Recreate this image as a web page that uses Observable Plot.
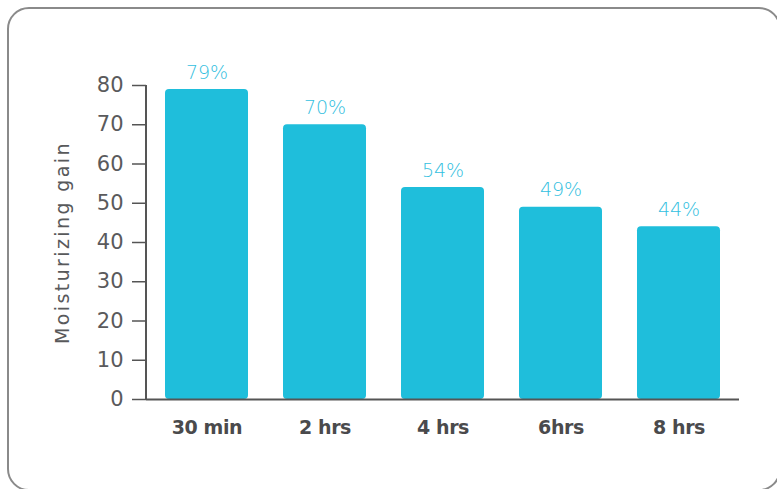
<!DOCTYPE html>
<html>
<head>
<meta charset="utf-8">
<script src="https://cdn.jsdelivr.net/npm/d3@7"></script>
<script src="https://cdn.jsdelivr.net/npm/@observablehq/plot@0.6"></script>
<style>
  html, body { margin: 0; padding: 0; background: #fff; }
  #wrap { position: relative; width: 777px; height: 489px; overflow: hidden; }
  #box { position: absolute; left: 7px; top: 7px; width: 774px; height: 484px; box-sizing: border-box;
         border: 2px solid #8a8a8a; border-radius: 22px; }
  #chart { position: absolute; left: 0; top: 0; }
  .ylab text { letter-spacing: 2.4px; }
  .xlab text { letter-spacing: -0.4px; }
</style>
</head>
<body>
<div id="wrap"><div id="box"></div><div id="chart"></div></div>
<script>
const categories = ["30 min", "2 hrs", "4 hrs", "6hrs", "8 hrs"];
const values = [79, 70, 54, 49, 44];
const valueLabels = ["79%", "70%", "54%", "49%", "44%"];
const yTicks = [0, 10, 20, 30, 40, 50, 60, 70, 80];
const yLabel = "Moisturizing gain";

const data = categories.map((c, i) => ({cat: c, v: values[i], lab: valueLabels[i]}));

const FONT = "DejaVu Sans, sans-serif";

const yAxisLine = (index, scales, values, dims) => {
  const g = d3.create("svg:g");
  g.append("line")
    .attr("x1", dims.marginLeft).attr("x2", dims.marginLeft)
    .attr("y1", scales.y(yTicks[yTicks.length - 1])).attr("y2", scales.y(0))
    .attr("stroke", "#555").attr("stroke-width", 2);
  return g.node();
};

const plot = Plot.plot({
  width: 777,
  height: 489,
  marginLeft: 146,
  marginRight: 38,
  marginTop: 85,
  marginBottom: 90,
  style: {fontFamily: FONT, background: "transparent", overflow: "visible"},
  x: {domain: categories, paddingInner: 0.3, paddingOuter: 0.15, label: null},
  y: {domain: [0, 80], label: null},
  marks: [
    Plot.barY(data, {x: "cat", y: "v", fill: "#1fbedb", rx: 4}),
    Plot.ruleY([0], {stroke: "#555", strokeWidth: 2}),
    yAxisLine,
    Plot.axisY({ticks: yTicks, tickSize: 14, tickPadding: 9, fontSize: 21, color: "#5a5a5c", stroke: "#555", strokeWidth: 1.5, label: null}),
    Plot.axisX({tickSize: 0, tickPadding: 21, fontSize: 19, fontWeight: 600, fill: "#4a4a4c", label: null, className: "xlab"}),
    Plot.text(data, {x: "cat", y: "v", text: "lab", dy: -17, fontSize: 19, fontWeight: 300, fill: "#33c0e0"}),
    Plot.text([yLabel], {frameAnchor: "left", dx: -84, rotate: -90, textAnchor: "middle", text: d => d, fontSize: 19, fill: "#58595b", className: "ylab"})
  ]
});
document.getElementById("chart").appendChild(plot);
</script>
</body>
</html>
